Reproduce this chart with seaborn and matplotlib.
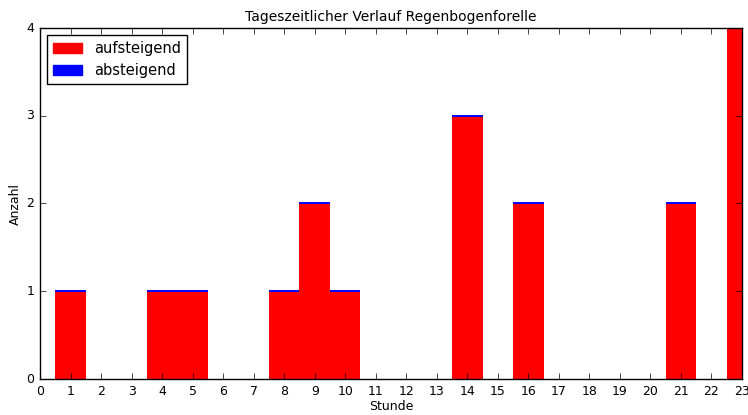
import matplotlib
matplotlib.use("Agg")
import matplotlib.pyplot as plt
import seaborn as sns
import numpy as np
import pandas as pd

hours = list(range(24))
aufsteigend = [0, 1, 0, 0, 1, 1, 0, 0, 1, 2, 1, 0, 0, 0, 3, 0, 2, 0, 0, 0, 0, 2, 0, 4]
absteigend = [0] * 24
tick_labels = [str(h) for h in hours]

plt.style.use("classic")
plt.rcParams["font.family"] = ["DejaVu Sans"]

fig = plt.figure(figsize=(7.48, 4.15), dpi=100)
ax = fig.add_axes([40 / 748, 1 - 379 / 415, 702 / 748, 351 / 415])

df = pd.DataFrame({"Stunde": hours, "aufsteigend": aufsteigend, "absteigend": absteigend})
sns.barplot(data=df, x="Stunde", y="aufsteigend", native_scale=True, width=1,
            color="red", saturation=1, linewidth=0, ax=ax, label="aufsteigend", errorbar=None)
nz = df[df["aufsteigend"] > 0]
ax.bar(nz["Stunde"], nz["absteigend"], width=1, bottom=nz["aufsteigend"],
       color="blue", edgecolor="blue", linewidth=1.4, label="absteigend", zorder=1)

ax.set_xlim(0, 23)
ax.set_ylim(0, 4)
ax.set_xticks(hours)
ax.set_xticklabels(tick_labels)
ax.set_yticks([0, 1, 2, 3, 4])
ax.tick_params(labelsize=9)
ax.set_xlabel("Stunde", fontsize=9, labelpad=1.5)
ax.set_ylabel("Anzahl", fontsize=9, labelpad=3)
ax.set_title("Tageszeitlicher Verlauf Regenbogenforelle", fontsize=10)
ax.grid(False)
for s in ax.spines.values():
    s.set_zorder(5)

handles = [plt.Rectangle((0, 0), 1, 1, color="red"), plt.Rectangle((0, 0), 1, 1, color="blue")]
ax.legend(handles, ["aufsteigend", "absteigend"], loc="upper left", fontsize=10.5)

fig.savefig("out.png", dpi=100)
